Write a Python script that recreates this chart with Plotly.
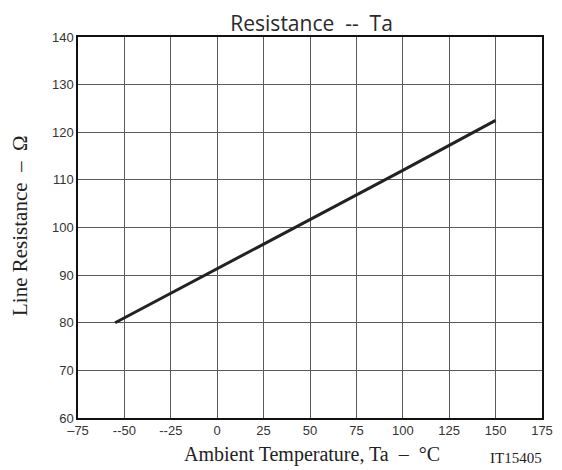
import plotly.graph_objects as go

# Data
temperature = [-55, 0, 50, 100, 150]
resistance = [80.0, 91.3, 101.6, 112.0, 122.5]

x_ticks = [-75, -50, -25, 0, 25, 50, 75, 100, 125, 150, 175]
x_ticklabels = ["\u201375", "--50", "--25", "0", "25", "50", "75", "100", "125", "150", "175"]
y_ticks = [60, 70, 80, 90, 100, 110, 120, 130, 140]

fig = go.Figure()
fig.add_trace(go.Scatter(
    x=temperature, y=resistance, mode="lines",
    line=dict(color="#222222", width=3), showlegend=False,
))

fig.update_layout(
    width=554, height=462,
    margin=dict(l=70, r=20, t=29, b=52),
    paper_bgcolor="white", plot_bgcolor="white",
    font=dict(family="Liberation Sans, Arial, sans-serif", color="#222222", size=13),
    title=dict(text="Resistance  --  Ta", x=0.548, xanchor="center", y=0.966, yanchor="middle",
               font=dict(size=21, family="Open Sans, sans-serif", color="#2a2a2a")),
)
fig.update_xaxes(
    range=[-75, 175], tickvals=x_ticks, ticktext=x_ticklabels,
    showgrid=True, gridcolor="#5a5a5a", gridwidth=1,
    showline=True, linecolor="#111111", linewidth=1.5, mirror=True,
    ticks="", zeroline=False, tickfont=dict(size=13, color="#333333"),
    automargin=False,
)
fig.update_yaxes(
    range=[60, 140], tickvals=y_ticks,
    showgrid=True, gridcolor="#5a5a5a", gridwidth=1,
    showline=True, linecolor="#111111", linewidth=1.5, mirror=True,
    ticks="", zeroline=False, tickfont=dict(size=13, color="#333333"),
    automargin=False,
)

fig.add_annotation(text="Ambient Temperature, Ta  \u2013  \u00b0C", xref="paper", yref="paper",
                   x=0.504, y=-0.097, xanchor="center", yanchor="middle", showarrow=False,
                   font=dict(family="Liberation Serif, Times New Roman, serif", size=20, color="#222222"))
fig.add_annotation(text="IT15405", xref="paper", yref="paper",
                   x=1.005, y=-0.105, xanchor="right", yanchor="middle", showarrow=False,
                   font=dict(family="Liberation Serif, Times New Roman, serif", size=15, color="#222222"))
fig.add_annotation(text="Line Resistance  \u2013  \u03a9", xref="paper", yref="paper",
                   x=-0.125, y=0.504, xanchor="center", yanchor="middle", showarrow=False, textangle=-90,
                   font=dict(family="Liberation Serif, Times New Roman, serif", size=21, color="#222222"))

fig.write_html("out.html")
